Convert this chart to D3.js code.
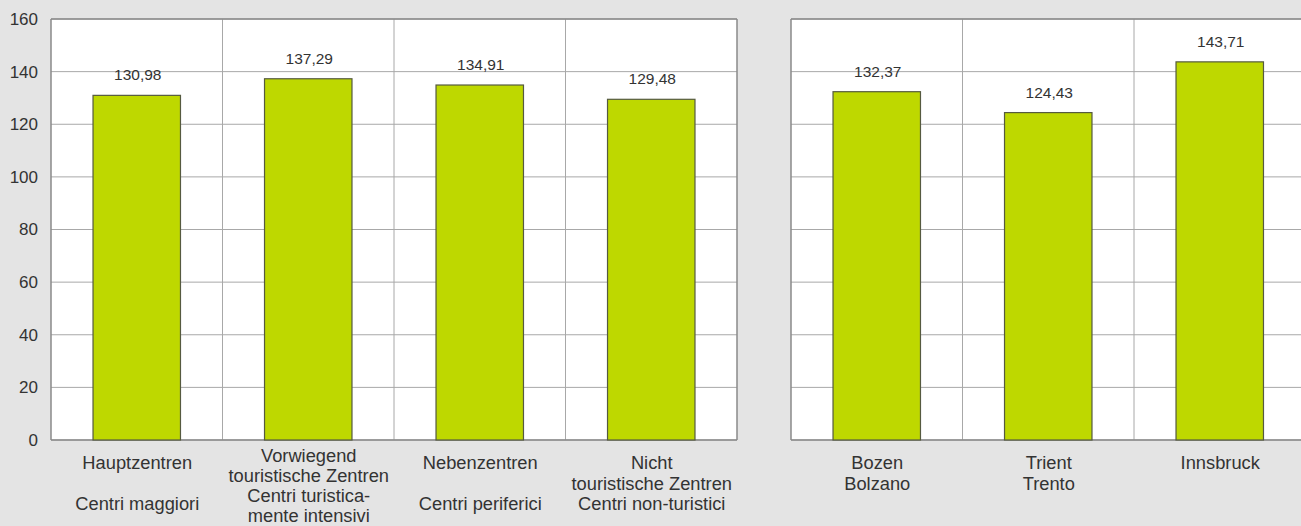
<!DOCTYPE html>
<html>
<head>
<meta charset="utf-8">
<script src="https://cdn.jsdelivr.net/npm/d3@7"></script>
<style>
  html, body { margin: 0; padding: 0; background: #e4e4e4; }
  svg { display: block; }
  text { font-family: "Liberation Sans", Arial, sans-serif; fill: #333; }
</style>
</head>
<body>
<svg id="chart" width="1301" height="526"></svg>
<script>
// ---- data ----
const leftCategories = [
  "Hauptzentren\n\nCentri maggiori",
  "Vorwiegend\ntouristische Zentren\nCentri turistica-\nmente intensivi",
  "Nebenzentren\n\nCentri periferici",
  "Nicht\ntouristische Zentren\nCentri non-turistici"
];
const leftValues = [130.98, 137.29, 134.91, 129.48];
const rightCategories = [
  "Bozen\nBolzano",
  "Trient\nTrento",
  "Innsbruck"
];
const rightValues = [132.37, 124.43, 143.71];
const yTicks = [0, 20, 40, 60, 80, 100, 120, 140, 160];
const fmt = v => v.toFixed(2).replace(".", ",");

(function () {
// ---- layout ----
const svg = d3.select("#chart");
const plotTop = 19, plotBottom = 440;
const y = d3.scaleLinear().domain([0, 160]).range([plotBottom, plotTop]);

const panels = [
  { cats: leftCategories, vals: leftValues, x0: 51, x1: 737, axis: true, rightBorder: true },
  { cats: rightCategories, vals: rightValues, x0: 791, x1: 1305.5, axis: false, rightBorder: false }
];

panels.forEach(p => {
  const x = d3.scaleBand().domain(p.cats).range([p.x0, p.x1]).padding(0);
  const bw = x.bandwidth();
  const barW = bw * 0.51;
  const g = svg.append("g");

  g.append("rect").attr("x", p.x0).attr("y", plotTop)
    .attr("width", p.x1 - p.x0).attr("height", plotBottom - plotTop).attr("fill", "#fff");

  // horizontal grid
  g.selectAll("line.h").data(yTicks).join("line").attr("class", "h")
    .attr("x1", p.x0).attr("x2", p.x1)
    .attr("y1", d => y(d)).attr("y2", d => y(d))
    .attr("stroke", "#a8a8a8").attr("stroke-width", 1);

  // vertical dividers
  g.selectAll("line.v").data(p.cats.slice(1)).join("line").attr("class", "v")
    .attr("x1", d => x(d)).attr("x2", d => x(d))
    .attr("y1", plotTop).attr("y2", plotBottom)
    .attr("stroke", "#a8a8a8").attr("stroke-width", 1);

  // border
  const border = g.append("g").attr("stroke", "#8a8a8a").attr("stroke-width", 1.5).attr("fill", "none");
  border.append("line").attr("x1", p.x0).attr("x2", p.x1).attr("y1", plotTop).attr("y2", plotTop);
  border.append("line").attr("x1", p.x0).attr("x2", p.x1).attr("y1", plotBottom).attr("y2", plotBottom);
  border.append("line").attr("x1", p.x0).attr("x2", p.x0).attr("y1", plotTop).attr("y2", plotBottom);
  if (p.rightBorder) border.append("line").attr("x1", p.x1).attr("x2", p.x1).attr("y1", plotTop).attr("y2", plotBottom);

  const data = p.cats.map((c, i) => ({ c, v: p.vals[i] }));

  // bars
  g.selectAll("rect.bar").data(data).join("rect")
    .attr("class", "bar")
    .attr("x", d => x(d.c) + (bw - barW) / 2)
    .attr("y", d => y(d.v))
    .attr("width", barW)
    .attr("height", d => y(0) - y(d.v))
    .attr("fill", "#bed800")
    .attr("stroke", "#555a40").attr("stroke-width", 1.2);

  // value labels
  g.selectAll("text.val").data(data).join("text").attr("class", "val")
    .attr("x", d => x(d.c) + bw / 2 + 1)
    .attr("y", d => y(d.v) - 15)
    .attr("text-anchor", "middle")
    .attr("font-size", 15.5)
    .text(d => fmt(d.v));

  // category labels
  const lh = 20.3;
  data.forEach(d => {
    const lines = d.c.split("\n");
    const startY = Math.min(463, 516 - (lines.length - 1) * lh);
    const t = g.append("text").attr("text-anchor", "middle").attr("font-size", 18.3);
    lines.forEach((ln, i) => {
      t.append("tspan").attr("x", x(d.c) + bw / 2 + 0.5)
        .attr("y", startY + i * lh).attr("dy", "0.35em").text(ln);
    });
  });

  if (p.axis) {
    const ax = svg.append("g").attr("transform", "translate(38,0)")
      .call(d3.axisLeft(y).tickValues(yTicks).tickSize(0).tickPadding(0));
    ax.select(".domain").remove();
    ax.selectAll("text").attr("font-size", 17).attr("fill", "#333")
      .attr("font-family", "Liberation Sans, Arial, sans-serif");
  }
});
})();
</script>
</body>
</html>
